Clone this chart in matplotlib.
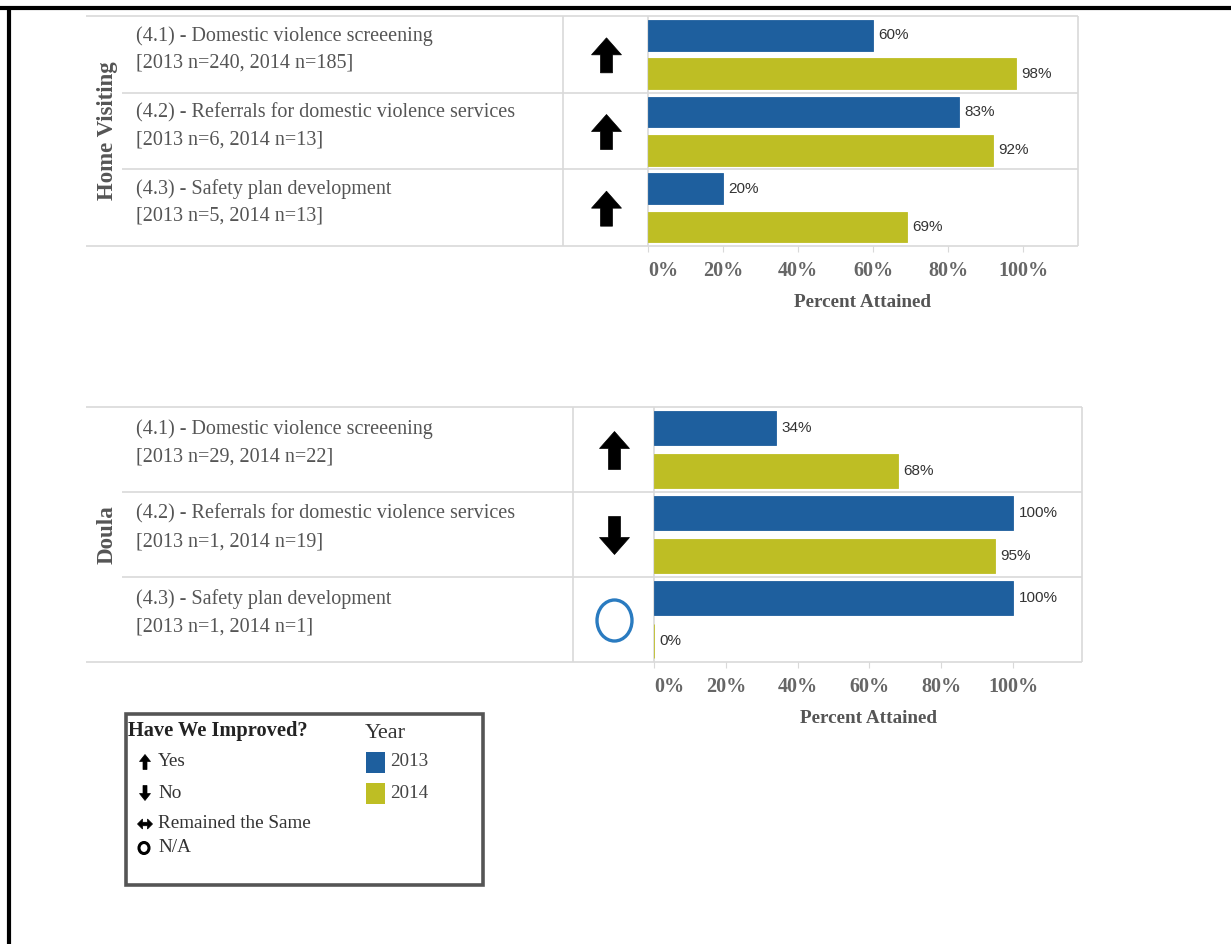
import matplotlib
matplotlib.use("Agg")
import matplotlib.pyplot as plt
from matplotlib.patches import Polygon, Rectangle, Ellipse

# ---- data -----------------------------------------------------------------
measures = ["(4.1) - Domestic violence screeening",
            "(4.2) - Referrals for domestic violence services",
            "(4.3) - Safety plan development"]
hv_counts = ["[2013 n=240, 2014 n=185]", "[2013 n=6, 2014 n=13]",
             "[2013 n=5, 2014 n=13]"]
hv_2013 = [60, 83, 20]
hv_2014 = [98, 92, 69]
hv_status = ["up", "up", "up"]

doula_counts = ["[2013 n=29, 2014 n=22]", "[2013 n=1, 2014 n=19]",
                "[2013 n=1, 2014 n=1]"]
doula_2013 = [34, 100, 100]
doula_2014 = [68, 95, 0]
doula_status = ["up", "down", "na"]

years = ["2013", "2014"]
xticks = [0, 20, 40, 60, 80, 100]
legend_items = [("up", "Yes"), ("down", "No"),
                ("same", "Remained the Same"), ("na", "N/A")]

# ---- styling ----------------------------------------------------------------
W, H = 1231, 944
BLUE = "#1e5f9e"
OLIVE = "#bebe24"
GRID = "#d9d9d9"
TXT = "#555555"
SERIF = ["Liberation Serif", "DejaVu Serif"]
NARROW = ["Liberation Sans Narrow", "Liberation Sans", "DejaVu Sans"]

fig = plt.figure(figsize=(W / 100, H / 100), dpi=100)
fig.patch.set_facecolor("white")

# pixel-space overlay for the table frame, row labels and symbols
ov = fig.add_axes([0, 0, 1, 1], zorder=0)
ov.set_xlim(0, W)
ov.set_ylim(H, 0)
ov.axis("off")


def fig_box(x0, y0, x1, y1):
    return [x0 / W, 1 - y1 / H, (x1 - x0) / W, (y1 - y0) / H]


def hline(x0, x1, y, color=GRID, lw=1.2):
    ov.plot([x0, x1], [y, y], color=color, lw=lw, solid_capstyle="butt")


def vline(x, y0, y1, color=GRID, lw=1.2):
    ov.plot([x, x], [y0, y1], color=color, lw=lw, solid_capstyle="butt")


def arrow(cx, cy, kind, h, hw, hh, sw, color="black"):
    if kind in ("up", "down"):
        t = cy - h / 2
        pts = [(cx, t), (cx + hw / 2, t + hh), (cx + sw / 2, t + hh),
               (cx + sw / 2, t + h), (cx - sw / 2, t + h),
               (cx - sw / 2, t + hh), (cx - hw / 2, t + hh)]
        if kind == "down":
            pts = [(x, 2 * cy - y) for x, y in pts]
    else:  # double-headed horizontal arrow
        l, r = cx - h / 2, cx + h / 2
        pts = [(l, cy), (l + hh, cy - hw / 2), (l + hh, cy - sw / 2),
               (r - hh, cy - sw / 2), (r - hh, cy - hw / 2), (r, cy),
               (r - hh, cy + hw / 2), (r - hh, cy + sw / 2),
               (l + hh, cy + sw / 2), (l + hh, cy + hw / 2)]
    ov.add_patch(Polygon(pts, closed=True, facecolor=color, edgecolor=color,
                         lw=0.5))


panels = [
    dict(group="Home Visiting", counts=hv_counts, v13=hv_2013, v14=hv_2014,
         status=hv_status, top=16, bottom=246, col=563, left0=648,
         px100=375, right=1078, line1=20, line2=47, arrow_h=35),
    dict(group="Doula", counts=doula_counts, v13=doula_2013, v14=doula_2014,
         status=doula_status, top=407, bottom=662, col=573, left0=654,
         px100=359, right=1082, line1=22, line2=50, arrow_h=38),
]

for p in panels:
    top, bottom = p["top"], p["bottom"]
    row_h = (bottom - top) / 3
    # table frame
    hline(86, p["right"], top)
    hline(86, p["right"], bottom)
    for i in (1, 2):
        hline(122, p["right"], top + i * row_h)
    vline(p["col"], top, bottom)
    vline(p["left0"], top, bottom)
    vline(p["right"], top, bottom)

    # group title
    ov.text(107, (top + bottom) / 2, p["group"], rotation=90, ha="center",
            va="center", fontsize=16.5, fontweight="bold", color=TXT,
            family=SERIF)

    arrow_x = (p["col"] + p["left0"]) / 2 + 1
    for i in range(3):
        rt = top + i * row_h
        ov.text(136, rt + p["line1"], measures[i], ha="left", va="center",
                fontsize=14.5, color=TXT, family=SERIF)
        ov.text(136, rt + p["line2"], p["counts"][i], ha="left", va="center",
                fontsize=14.5, color=TXT, family=SERIF)
        cy = rt + row_h / 2 + 1
        s = p["status"][i]
        if s == "na":
            ov.add_patch(Ellipse((arrow_x, cy), 35, 41, facecolor="none",
                                 edgecolor="#2a7bc0", lw=2.4))
        else:
            arrow(arrow_x, cy, s, p["arrow_h"], 30, 17, 12)

    # bar chart
    xmax = (p["right"] - p["left0"]) / p["px100"] * 100
    ax = fig.add_axes(fig_box(p["left0"], top, p["right"], bottom), zorder=1)
    ax.set_facecolor("none")
    ax.set_xlim(0, xmax)
    ax.set_ylim(3, 0)
    ys = [i + 0.25 for i in range(3)]
    ys2 = [i + 0.75 for i in range(3)]
    ax.barh(ys, p["v13"], height=0.4, color=BLUE, edgecolor=BLUE, lw=0.6)
    ax.barh(ys2, p["v14"], height=0.4, color=OLIVE, edgecolor=OLIVE, lw=0.6)
    for y, v in list(zip(ys, p["v13"])) + list(zip(ys2, p["v14"])):
        ax.annotate(f"{v}%", (v, y), xytext=(4, 0), textcoords="offset points",
                    ha="left", va="center", fontsize=11, color="#333333",
                    family=NARROW)
    for sp in ax.spines.values():
        sp.set_visible(False)
    ax.set_yticks([])
    ax.set_xticks(xticks)
    ax.set_xticklabels([f"{t}%" for t in xticks], family=SERIF,
                       fontsize=14.5, fontweight="bold", color="#666666")
    ax.get_xticklabels()[0].set_ha("left")
    ax.tick_params(axis="x", length=4, color=GRID, pad=7)
    ax.set_xlabel("Percent Attained", family=SERIF, fontsize=13.8,
                  fontweight="bold", color="#555555", labelpad=9)

# ---- legend box ---------------------------------------------------------------
ov.add_patch(Rectangle((126, 714), 357, 171, facecolor="none",
                       edgecolor="#555555", lw=2.6))
ov.text(128, 731, "Have We Improved?", ha="left", va="center", fontsize=14.7,
        fontweight="bold", color="#222222", family=SERIF)
leg_y = [762, 793, 824, 848]
for (kind, lab), y in zip(legend_items, leg_y):
    if kind == "na":
        ov.add_patch(Ellipse((144, y), 10, 11, facecolor="none",
                             edgecolor="black", lw=2.2))
    elif kind == "same":
        arrow(145, y, kind, 15, 10, 5, 3.5)
    else:
        arrow(145, y, kind, 15, 11, 7, 4)
    ov.text(158, y, lab, ha="left", va="center", fontsize=13.8,
            color="#333333", family=SERIF)

ov.text(365, 734, "Year", ha="left", va="center", fontsize=16,
        color="#333333", family=SERIF)
for y, c, lab in zip([762, 793], [BLUE, OLIVE], years):
    ov.add_patch(Rectangle((366, y - 10.5), 19, 21, facecolor=c,
                           edgecolor="none"))
    ov.text(390, y, lab, ha="left", va="center", fontsize=13.8,
            color="#444444", family=SERIF)

# outer page frame (top and left edges)
ov.plot([0, W], [7.5, 7.5], color="black", lw=3, solid_capstyle="butt")
ov.plot([8.5, 8.5], [6, H], color="black", lw=3, solid_capstyle="butt")

fig.savefig("out.png", dpi=100)
